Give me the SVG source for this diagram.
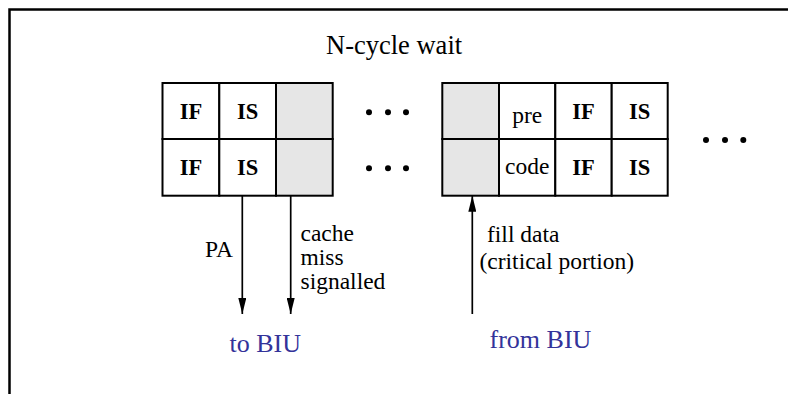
<svg xmlns="http://www.w3.org/2000/svg" width="788" height="394" viewBox="0 0 788 394">
<defs>
<style>
.cell{fill:#ffffff;stroke:#000;stroke-width:2}
.gray{fill:#e6e6e6;stroke:#000;stroke-width:2}
.b{font-family:"Liberation Serif","Times New Roman",serif;font-weight:bold;font-size:22.5px;fill:#000;text-anchor:middle}
.r{font-family:"Liberation Serif","Times New Roman",serif;font-size:23.5px;fill:#000}
.c{text-anchor:middle}
.blue{font-family:"Liberation Serif","Times New Roman",serif;font-size:26px;fill:#33339a}
.title{font-family:"Liberation Serif","Times New Roman",serif;font-size:26.5px;fill:#000}
.wire{stroke:#000;stroke-width:1.7;fill:none}
.dot{fill:#000}
</style>
<marker id="ah" viewBox="0 0 16 8" refX="16" refY="4" markerWidth="16" markerHeight="8" orient="auto" markerUnits="userSpaceOnUse">
<path d="M0,0 L16,4 L0,8 z" fill="#000"/>
</marker>
</defs>
<rect x="0" y="0" width="788" height="394" fill="#ffffff"/>
<path d="M9.5,394 V9.5 H788" fill="none" stroke="#000" stroke-width="2.5"/>

<text class="title" x="326" y="54.3">N-cycle wait</text>

<g id="left-block">
<g id="l-if1"><rect class="cell" x="162.5" y="83" width="56.8" height="56"/><text class="b" x="190.9" y="119.3">IF</text></g>
<g id="l-is1"><rect class="cell" x="219.3" y="83" width="56.7" height="56"/><text class="b" x="247.7" y="119.3">IS</text></g>
<g id="l-g1"><rect class="gray" x="276" y="83" width="56.7" height="56"/></g>
<g id="l-if2"><rect class="cell" x="162.5" y="139" width="56.8" height="56.7"/><text class="b" x="190.9" y="175">IF</text></g>
<g id="l-is2"><rect class="cell" x="219.3" y="139" width="56.7" height="56.7"/><text class="b" x="247.7" y="175">IS</text></g>
<g id="l-g2"><rect class="gray" x="276" y="139" width="56.7" height="56.7"/></g>
</g>

<g id="dots-mid">
<circle class="dot" cx="369" cy="112.3" r="3"/><circle class="dot" cx="388" cy="112.3" r="3"/><circle class="dot" cx="406" cy="112.3" r="3"/>
<circle class="dot" cx="369" cy="168.3" r="3"/><circle class="dot" cx="388" cy="168.3" r="3"/><circle class="dot" cx="406" cy="168.3" r="3"/>
</g>

<g id="right-block">
<g id="r-g1"><rect class="gray" x="442.3" y="83" width="56.7" height="56"/></g>
<g id="r-pre"><rect class="cell" x="499" y="83" width="56.3" height="56"/><text class="r c" x="527.2" y="122.7">pre</text></g>
<g id="r-if1"><rect class="cell" x="555.3" y="83" width="56.4" height="56"/><text class="b" x="583.5" y="119.3">IF</text></g>
<g id="r-is1"><rect class="cell" x="611.7" y="83" width="56" height="56"/><text class="b" x="639.7" y="119.3">IS</text></g>
<g id="r-g2"><rect class="gray" x="442.3" y="139" width="56.7" height="56.7"/></g>
<g id="r-code"><rect class="cell" x="499" y="139" width="56.3" height="56.7"/><text class="r c" x="527.2" y="174">code</text></g>
<g id="r-if2"><rect class="cell" x="555.3" y="139" width="56.4" height="56.7"/><text class="b" x="583.5" y="175">IF</text></g>
<g id="r-is2"><rect class="cell" x="611.7" y="139" width="56" height="56.7"/><text class="b" x="639.7" y="175">IS</text></g>
</g>

<g id="dots-right">
<circle class="dot" cx="706" cy="140" r="3"/><circle class="dot" cx="725" cy="140" r="3"/><circle class="dot" cx="743.3" cy="140" r="3"/>
</g>

<g id="connectors">
<line class="wire" x1="242.3" y1="195.7" x2="242.3" y2="314" marker-end="url(#ah)"/>
<line class="wire" x1="290.7" y1="195.7" x2="290.7" y2="314" marker-end="url(#ah)"/>
<line class="wire" x1="472.3" y1="314" x2="472.3" y2="195.7" marker-end="url(#ah)"/>
</g>

<g id="labels">
<text class="r" x="205" y="256.7">PA</text>
<text class="r" x="300.5" y="241">cache</text>
<text class="r" x="300.5" y="265.2">miss</text>
<text class="r" x="300.5" y="289.4">signalled</text>
<text class="r" x="487" y="241.7">fill data</text>
<text class="r" x="479.5" y="269">(critical portion)</text>
<text class="blue" x="229.5" y="352.3">to BIU</text>
<text class="blue" x="489.5" y="348.3">from BIU</text>
</g>
</svg>
